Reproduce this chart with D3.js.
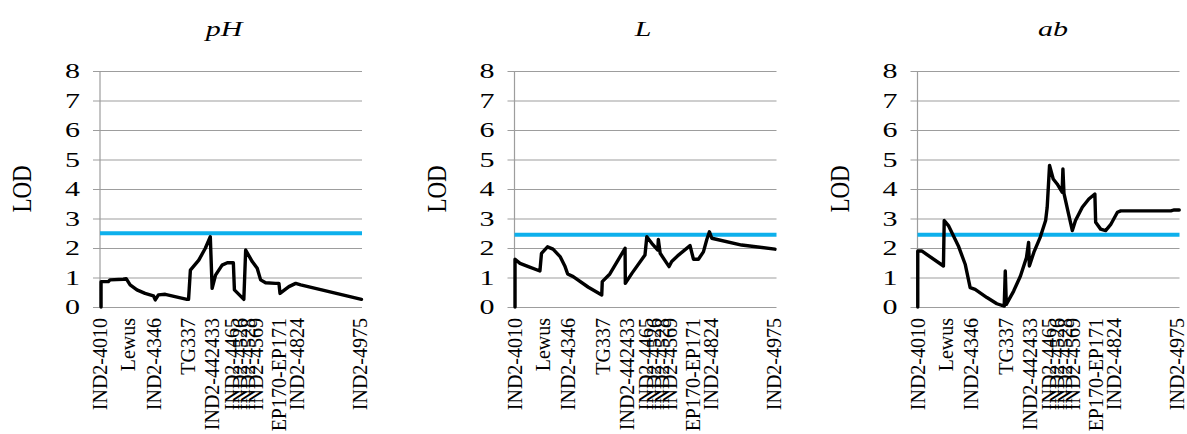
<!DOCTYPE html>
<html>
<head>
<meta charset="utf-8">
<script src="https://cdn.jsdelivr.net/npm/d3@7"></script>
<style>
  html, body { margin: 0; padding: 0; background: #fff; }
  svg { display: block; }
  text { font-family: "Liberation Serif", "Times New Roman", serif; fill: #000; }
</style>
</head>
<body>
<svg id="chart" width="1187" height="434"></svg>
<script>
// Marker names and map positions (cM) along the linkage group
const markers = ["IND2-4010", "Lewus", "IND2-4346", "TG337", "IND2-442433", "IND2-4465",
                 "IND2-4526", "IND2-4528", "IND2-4569", "EP170-EP171", "IND2-4824", "IND2-4975"];
const markerPos = [0, 10.7, 20.5, 33.7, 42.9, 50.2, 53.3, 56.3, 59.4, 68.2, 75.1, 99.2];

const lodTicks = [0, 1, 2, 3, 4, 5, 6, 7, 8];

// LOD profiles: position (cM) and LOD score
const phPos = [0.4, 0.4, 3.2, 3.8, 8.9, 10, 11.5, 14.1, 17.2, 20.4, 21.1, 22.3, 24.9, 33.2, 33.8, 34.5,
               37.7, 40.2, 42.1, 42.8, 44.1, 46.6, 48.6, 50.9, 51.3, 54.9, 55.6, 58.1, 60.0, 61.3,
               63.2, 67.0, 68.3, 68.7, 72.1, 74.7, 76.6, 99.8];
const phLod = [0, 0.86, 0.86, 0.92, 0.94, 0.96, 0.75, 0.58, 0.46, 0.38, 0.24, 0.41, 0.43, 0.26, 0.26, 1.25,
               1.59, 1.99, 2.38, 0.63, 1.08, 1.42, 1.50, 1.50, 0.58, 0.26, 1.93, 1.54, 1.31, 0.92,
               0.82, 0.80, 0.80, 0.46, 0.69, 0.80, 0.75, 0.26];

const lPos = [0.2, 0.2, 2.1, 5.3, 9.7, 10.3, 12.6, 14.7, 17.4, 19.3, 20.3, 22.4, 28.2, 33.3, 33.5, 36.4,
              42.2, 42.3, 44.8, 49.8, 50.5, 52.4, 54.7, 54.9, 55.6, 59.0, 60.0, 62.6, 67.0, 68.3,
              70.2, 72.1, 73.4, 74.4, 75.3, 86.7, 99.4];
const lLod = [0, 1.62, 1.48, 1.37, 1.22, 1.82, 2.04, 1.96, 1.71, 1.37, 1.12, 1.03, 0.67, 0.41, 0.86, 1.12,
              1.99, 0.80, 1.14, 1.76, 2.38, 2.16, 1.93, 2.29, 1.82, 1.37, 1.54, 1.76, 2.08, 1.62,
              1.62, 1.87, 2.29, 2.55, 2.33, 2.10, 1.96];

const abPos = [0.1, 0.1, 1.6, 9.9, 10.2, 11.8, 15.6, 18.2, 20.1, 22.0, 26.5, 30.3, 33.1, 33.5, 33.9, 36.7,
               39.3, 41.6, 42.4, 42.7, 44.4, 46.9, 48.9, 49.5, 50.4, 51.8, 53.3, 55.2, 55.5, 55.9,
               57.8, 59.1, 60.3, 62.9, 65.4, 67.7, 68.0, 69.9, 71.8, 73.7, 76.3, 77.6, 96.7, 98.0, 99.9];
const abLod = [0, 1.90, 1.90, 1.39, 2.93, 2.76, 2.07, 1.45, 0.66, 0.60, 0.32, 0.11, 0.03, 1.22, 0.09, 0.54,
               1.05, 1.68, 2.19, 1.39, 1.85, 2.38, 2.93, 3.38, 4.80, 4.34, 4.17, 3.89, 4.68, 3.85,
               3.10, 2.59, 2.93, 3.38, 3.66, 3.83, 2.87, 2.64, 2.59, 2.79, 3.21, 3.26, 3.26, 3.29, 3.29];

// Significance thresholds
const traits = ["pH", "L", "ab"];
const thresholds = [2.5, 2.45, 2.45];
const positions = [phPos, lPos, abPos];
const lods = [phLod, lLod, abLod];

const svg = d3.select("#chart");
const panelLeft = [100, 514.5, 917.5];
const titleX = [224, 643, 1053];
const plotW = 262, plotTop = 71, plotBottom = 307;
const stretch = 1.5; // horizontal widening of upright text

const y = d3.scaleLinear().domain([0, 8]).range([plotBottom, plotTop]);

traits.forEach((t, i) => {
  const left = panelLeft[i];
  const x = d3.scaleLinear().domain([0, 100]).range([left, left + plotW]);
  const g = svg.append("g");

  // horizontal gridlines with short outward ticks
  const ya = g.append("g").attr("transform", `translate(${left + plotW},0)`)
    .call(d3.axisLeft(y).tickValues(lodTicks).tickSize(plotW + 7).tickFormat(""));
  ya.select(".domain").remove();
  ya.selectAll("line").attr("stroke", "#9d9d9d").attr("stroke-width", 1.2);

  // tick labels
  g.selectAll("text.ytick").data(lodTicks).join("text")
    .attr("class", "ytick")
    .attr("transform", d => `translate(${left - 20},${y(d)}) scale(${stretch},1)`)
    .attr("dy", "0.35em")
    .attr("text-anchor", "end").style("font-size", "20px")
    .text(d => d);

  // vertical axis line
  g.append("line").attr("x1", left).attr("x2", left).attr("y1", plotTop).attr("y2", plotBottom)
    .attr("stroke", "#9d9d9d").attr("stroke-width", 1.2);

  // threshold line
  g.append("line")
    .attr("x1", x(0)).attr("x2", x(100))
    .attr("y1", y(thresholds[i])).attr("y2", y(thresholds[i]))
    .attr("stroke", "#0db0ec").attr("stroke-width", 4);

  // LOD profile
  const pts = positions[i].map((p, k) => [p, lods[i][k]]);
  g.append("path").datum(pts)
    .attr("fill", "none").attr("stroke", "#000").attr("stroke-width", 3.4)
    .attr("stroke-linejoin", "round").attr("stroke-linecap", "round")
    .attr("d", d3.line().x(d => x(d[0])).y(d => y(d[1])));

  // marker labels
  g.selectAll("text.marker").data(markers).join("text")
    .attr("class", "marker")
    .attr("transform", (d, k) => `translate(${x(markerPos[k])},${plotBottom + 11}) rotate(-90)`)
    .attr("dy", "0.35em").attr("text-anchor", "end").style("font-size", "20px")
    .text(d => d);

  // axis title
  g.append("text")
    .attr("transform", `translate(${left - 78},${(plotTop + plotBottom) / 2}) rotate(-90) scale(1,1.15)`)
    .attr("dy", "0.35em").attr("text-anchor", "middle").style("font-size", "23px")
    .text("LOD");

  // panel title
  g.append("text")
    .attr("transform", `translate(${titleX[i]},36) scale(${stretch},1)`)
    .attr("text-anchor", "middle").style("font-size", "20px").style("font-style", "italic")
    .text(t);
});
</script>
</body>
</html>
